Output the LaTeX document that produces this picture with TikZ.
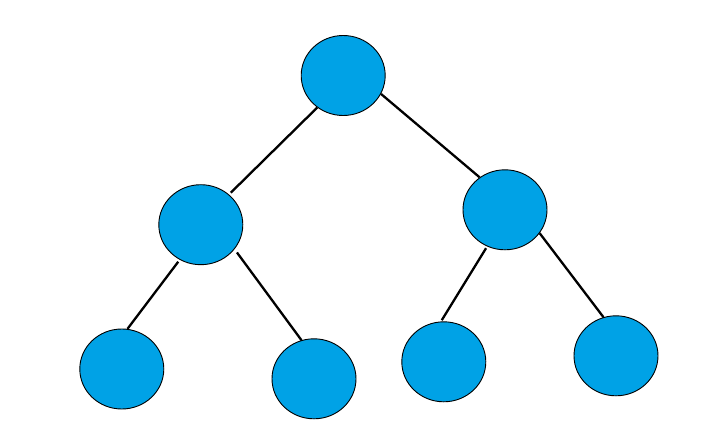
\documentclass[tikz,border=0pt]{standalone}
\usetikzlibrary{shapes.geometric}
\definecolor{nodeblue}{RGB}{0,162,230}
\begin{document}
\begin{tikzpicture}[x=1pt,y=-1pt,
  treenode/.style={ellipse,draw=black,line width=0.9pt,fill=nodeblue,
    minimum width=84pt,minimum height=80pt,inner sep=0pt},
  edge/.style={draw=black,line width=2.3pt}]
\useasboundingbox[fill=white] (0,0) rectangle (726,439);
\node[treenode] (root) at (343.2,75.5) {};
\node[treenode] (lm) at (200.8,224.7) {};
\node[treenode] (rm) at (505,209.8) {};
\node[treenode] (l1) at (121.8,369) {};
\node[treenode] (l2) at (314,378.8) {};
\node[treenode] (l3) at (443.8,361.8) {};
\node[treenode] (l4) at (616,355.8) {};
\draw[edge,shorten >=2.5pt] (root.231) -- (lm.47);
\draw[edge] (root.334) -- (rm.128);
\draw[edge,shorten <=2.4pt] (lm.239) -- (l1.82);
\draw[edge,shorten <=4pt] (lm.324) -- (l2.108);
\draw[edge,shorten <=2pt,shorten >=1.5pt] (rm.244) -- (l3.94);
\draw[edge] (rm.326) -- (l4.108);
\end{tikzpicture}
\end{document}
